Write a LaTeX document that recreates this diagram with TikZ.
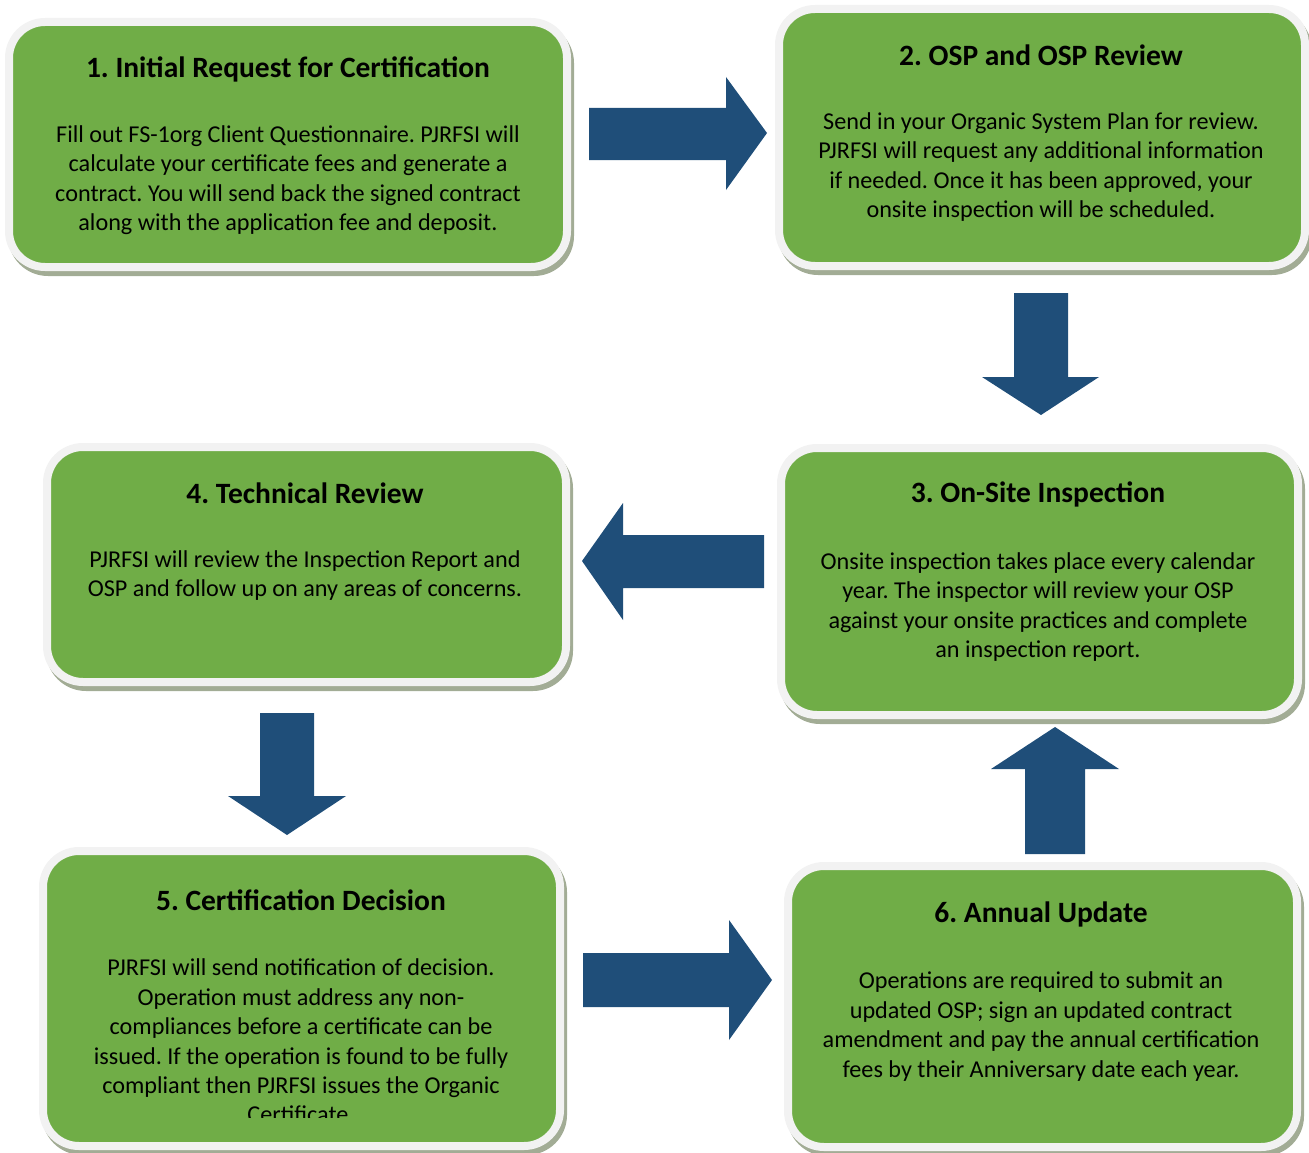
\documentclass[tikz,border=0pt]{standalone}
\usepackage{fontspec}
\setmainfont{Carlito}
\usetikzlibrary{shadows}
\definecolor{boxgreen}{HTML}{70AD47}
\definecolor{boxrim}{HTML}{F2F2F2}
\definecolor{boxshade}{HTML}{A2AC95}
\definecolor{arrowblue}{HTML}{1F4E79}
\tikzset{
  stepbox/.style={rounded corners=36pt, fill=boxgreen, draw=boxrim, line width=8pt,
    drop shadow={shadow xshift=3pt, shadow yshift=-5pt, opacity=1, fill=boxshade, draw=boxshade, line width=8pt}},
  steptitle/.style={font=\fontsize{29.5}{35}\selectfont\bfseries, inner sep=0pt},
  steptext/.style={font=\fontsize{24.2}{29.4}\selectfont, align=center, inner sep=0pt},
  blockarrow/.style={fill=arrowblue}
}
\frenchspacing
\begin{document}
\begin{tikzpicture}[x=1pt,y=-1pt]
            \useasboundingbox (0,0) rectangle (1309,1153);
            \begin{scope}[every node/.style={stepbox}]
                \node[minimum width=558pt, minimum height=245pt] (1) at (288,144.5) {};
                \node[minimum width=526pt, minimum height=257pt] (2) at (1042,137.5) {};
                \node[minimum width=517pt, minimum height=267pt] (3) at (1039.5,581.5) {};
                \node[minimum width=519pt, minimum height=235pt] (4) at (306.5,564.5) {};
                \node[minimum width=517pt, minimum height=295pt] (5) at (301.5,998.5) {};
                \node[minimum width=509pt, minimum height=281pt] (6) at (1042.5,1006.5) {};
            \end{scope}
            % titles
            \node[steptitle] (1t) at (288,69) {1. Initial Request for Certification};
            \node[steptitle] (2t) at (1041,55) {2. OSP and OSP Review};
            \node[steptitle] (3t) at (1038,494) {3. On-Site Inspection};
            \node[steptitle] (4t) at (305,493) {4. Technical Review};
            \node[steptitle] (5t) at (301,900) {5. Certification Decision};
            \node[steptitle] (6t) at (1041,914) {6. Annual Update};
            % texts
            \node[steptext] (1b) at (288,180) {Fill out FS-1org Client Questionnaire. PJRFSI will\\calculate your certificate fees and generate a\\contract. You will send back the signed contract\\along with the application fee and deposit.};
            \node[steptext] (2b) at (1041,167) {Send in your Organic System Plan for review.\\PJRFSI will request any additional information\\if needed. Once it has been approved, your\\onsite inspection will be scheduled.};
            \node[steptext] (3b) at (1038,607) {Onsite inspection takes place every calendar\\year. The inspector will review your OSP\\against your onsite practices and complete\\an inspection report.};
            \node[steptext] (4b) at (305,575.5) {PJRFSI will review the Inspection Report and\\OSP and follow up on any areas of concerns.};
            \begin{scope}
                \clip (0,0) rectangle (1309,1117);
                \node[steptext] (5b) at (301,1041) {PJRFSI will send notification of decision.\\Operation must address any non-\\compliances before a certificate can be\\issued. If the operation is found to be fully\\compliant then PJRFSI issues the Organic\\Certificate.};
            \end{scope}
            \node[steptext] (6b) at (1041,1026.5) {Operations are required to submit an\\updated OSP; sign an updated contract\\amendment and pay the annual certification\\fees by their Anniversary date each year.};
            % arrows
            \fill[blockarrow] (589,108) -- (726,108) -- (726,77) -- (767,133) -- (726,190) -- (726,160) -- (589,160) -- cycle;
            \fill[blockarrow] (1014,293) -- (1068,293) -- (1068,377) -- (1099,377) -- (1041,415) -- (982,377) -- (1014,377) -- cycle;
            \fill[blockarrow] (764,535) -- (623,535) -- (623,503) -- (582,561) -- (623,620) -- (623,588) -- (764,588) -- cycle;
            \fill[blockarrow] (260,713) -- (314,713) -- (314,796) -- (346,796) -- (287,835) -- (228,796) -- (260,796) -- cycle;
            \fill[blockarrow] (583,953) -- (729,953) -- (729,920) -- (772,980) -- (729,1040) -- (729,1007) -- (583,1007) -- cycle;
            \fill[blockarrow] (1025,854) -- (1085,854) -- (1085,769) -- (1119,769) -- (1055,727) -- (991,769) -- (1025,769) -- cycle;
\end{tikzpicture}
\end{document}
